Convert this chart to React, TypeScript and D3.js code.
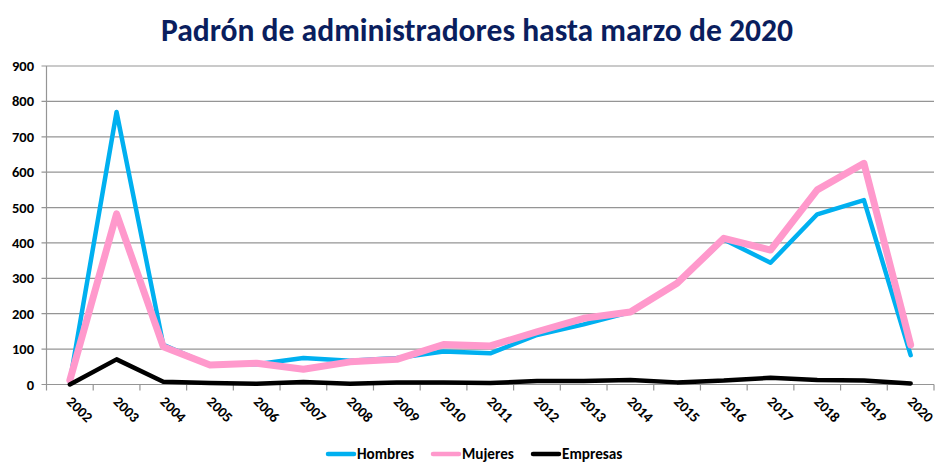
import React from "react";
import * as d3 from "d3";

const years = ["2002","2003","2004","2005","2006","2007","2008","2009","2010","2011","2012","2013","2014","2015","2016","2017","2018","2019","2020"];
const hombres = [8, 770, 112, 55, 57, 75, 67, 75, 93, 88, 140, 170, 205, 285, 410, 344, 481, 521, 83];
const mujeres = [12, 482, 107, 55, 60, 43, 64, 71, 113, 109, 149, 187, 205, 286, 413, 380, 550, 625, 112];
const empresas = [0, 71, 8, 4, 2, 7, 2, 6, 6, 4, 10, 10, 13, 6, 11, 19, 13, 11, 3];
const yTicks = [0, 100, 200, 300, 400, 500, 600, 700, 800, 900];

const seriesDefs = [
  { name: "Hombres", values: hombres, color: "#00B0F0", width: 4.5 },
  { name: "Mujeres", values: mujeres, color: "#FF99CC", width: 7 },
  { name: "Empresas", values: empresas, color: "#000000", width: 4.5 },
];

export default function App() {
  const W = 950, H = 476;
  const left = 46.5, right = 934, top = 66, bottom = 384.5;
  const x = d3.scaleBand<string>().domain(years).range([left, right]);
  const y = d3.scaleLinear().domain([0, 900]).range([bottom, top]);
  const line = (vals: number[]) =>
    d3.line<number>().x((_, i) => (x(years[i]) as number) + x.bandwidth() / 2).y((v) => y(v))(vals) as string;
  const font = "Calibri, Carlito, Lato, sans-serif";
  const legendItems = [
    { name: "Hombres", color: "#00B0F0", x0: 328, tx: 357 },
    { name: "Mujeres", color: "#FF99CC", x0: 433, tx: 462 },
    { name: "Empresas", color: "#000000", x0: 533, tx: 562 },
  ];
  return (
    <svg width={W} height={H} style={{ position: "absolute", left: 0, top: 0, background: "#fff" }}>
      <text x={477} y={41} textAnchor="middle" fontFamily={font} fontWeight="bold" fontSize={31.6} fill="#0A1E5E">
        Padrón de administradores hasta marzo de 2020
      </text>
      {yTicks.map((t) => (
        <g key={t}>
          <line x1={left - 5} x2={right} y1={y(t)} y2={y(t)} stroke="#959595" strokeWidth={1.2} />
          <text x={34} y={y(t) + 5} textAnchor="end" fontFamily={font} fontWeight="bold" fontSize={14.5} fill="#000">
            {t}
          </text>
        </g>
      ))}
      <line x1={left} x2={left} y1={top} y2={bottom} stroke="#959595" strokeWidth={1.2} />
      {years.map((yr) => (
        <line key={"t" + yr} x1={(x(yr) as number)} x2={(x(yr) as number)} y1={bottom} y2={bottom + 6} stroke="#959595" strokeWidth={1.2} />
      ))}
      <line x1={right} x2={right} y1={bottom} y2={bottom + 6} stroke="#959595" strokeWidth={1.2} />
      {years.map((yr) => {
        const cx = (x(yr) as number) + x.bandwidth() / 2;
        return (
          <text key={yr} transform={`translate(${cx - 4},${bottom + 18}) rotate(45)`} fontFamily={font} fontWeight="bold" fontSize={14.5} fill="#000">
            {yr}
          </text>
        );
      })}
      {seriesDefs.map((s) => (
        <path key={s.name} d={line(s.values)} fill="none" stroke={s.color} strokeWidth={s.width} strokeLinejoin="round" strokeLinecap="round" />
      ))}
      {legendItems.map((l) => (
        <g key={l.name}>
          <line x1={l.x0} x2={l.x0 + 26} y1={454} y2={454} stroke={l.color} strokeWidth={4.5} strokeLinecap="round" />
          <text x={l.tx} y={459} fontFamily={font} fontWeight="bold" fontSize={15.2} fill="#000">
            {l.name}
          </text>
        </g>
      ))}
    </svg>
  );
}
